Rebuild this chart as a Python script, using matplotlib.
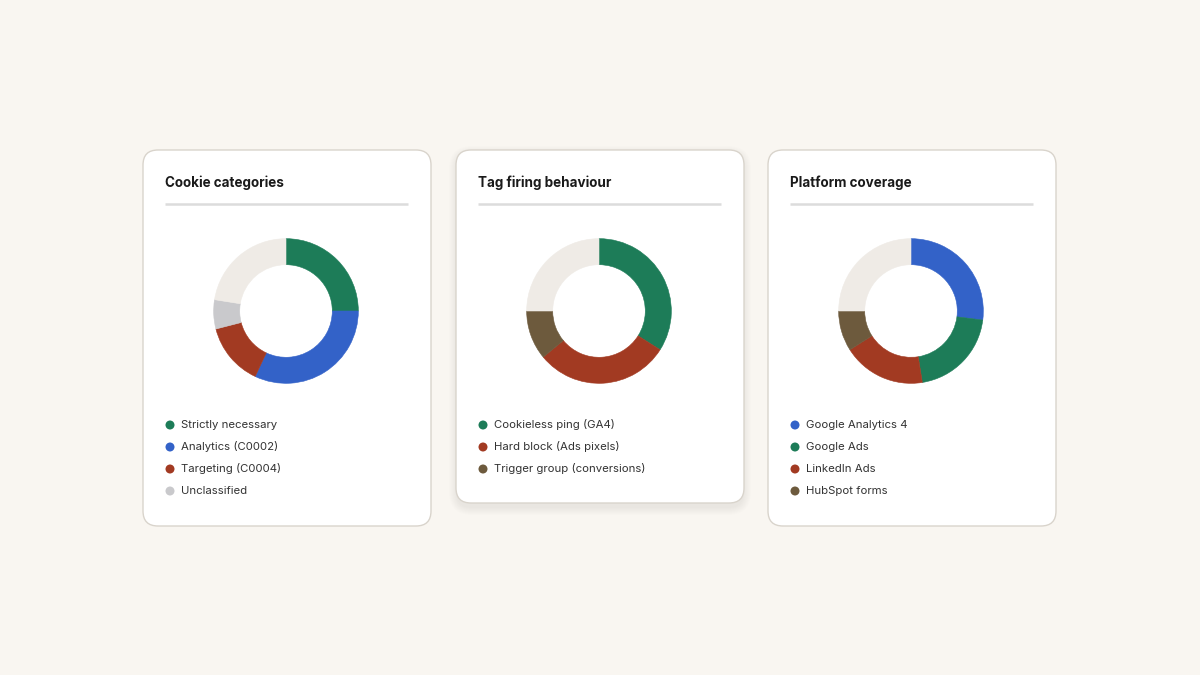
import matplotlib
matplotlib.use("Agg")
import matplotlib.pyplot as plt
from matplotlib.patches import FancyBboxPatch

# ---- data ----
titles = ["Cookie categories", "Tag firing behaviour", "Platform coverage"]
labels = [
    ["Strictly necessary", "Analytics (C0002)", "Targeting (C0004)", "Unclassified"],
    ["Cookieless ping (GA4)", "Hard block (Ads pixels)", "Trigger group (conversions)"],
    ["Google Analytics 4", "Google Ads", "LinkedIn Ads", "HubSpot forms"],
]
values = [
    [25, 32, 14, 6.5],
    [34, 30, 11],
    [27, 20.5, 18.5, 9],
]
remainders = [22.5, 25, 25]

GREEN = "#1d7c58"
BLUE = "#3362c8"
RED = "#a23a22"
GRAY = "#c9c9cc"
BROWN = "#6d5a3d"
TRACK = "#efebe6"
colors = [
    [GREEN, BLUE, RED, GRAY],
    [GREEN, RED, BROWN],
    [BLUE, GREEN, RED, BROWN],
]

BG = "#f9f6f1"
W, H = 1200, 675
FONT = ["Inter", "DejaVu Sans"]

fig = plt.figure(figsize=(W / 100, H / 100), dpi=100, facecolor=BG)
bg = fig.add_axes([0, 0, 1, 1])
bg.set_xlim(0, W)
bg.set_ylim(H, 0)
bg.axis("off")
bg.set_facecolor(BG)

card_x = [143, 456, 768]
card_w = 288
card_top = 150
card_bottom = [526, 503, 526]

for i in range(3):
    x0 = card_x[i]
    h = card_bottom[i] - card_top
    if i == 1:
        for k in range(1, 9):
            sh = FancyBboxPatch((x0 - k + 1, card_top + 3 - k + 1), card_w + 2 * k - 2, h + 2 * k,
                                boxstyle="round,pad=0,rounding_size=%d" % (15 + k),
                                linewidth=0, facecolor="#6a5a40", alpha=0.008, zorder=1)
            bg.add_patch(sh)
    card = FancyBboxPatch((x0, card_top), card_w, h,
                          boxstyle="round,pad=0,rounding_size=15",
                          linewidth=1.0, edgecolor="#d9d4cc", facecolor="white", zorder=2)
    bg.add_patch(card)
    # title
    bg.text(x0 + 22, 183, titles[i], fontsize=9.7, fontweight="bold", color="#1a1a1a",
            family=FONT, va="center", ha="left", zorder=3)
    # separator
    bg.plot([x0 + 22, x0 + card_w - 23], [204, 204], color="#dcdcdc", lw=1.8,
            solid_capstyle="butt", zorder=3)
    # legend
    for j, lab in enumerate(labels[i]):
        y = 425 + 22 * j
        bg.scatter([x0 + 27], [y], s=42, color=colors[i][j], edgecolors="none", zorder=3)
        bg.text(x0 + 38, y, lab, fontsize=8.2, color="#333333", family=FONT,
                va="center", ha="left", zorder=3)

    # donut
    cx, cy, r = x0 + 143, 311, 72.7
    ax = fig.add_axes([(cx - r) / W, 1 - (cy + r) / H, 2 * r / W, 2 * r / H])
    wedges, _ = ax.pie(values[i] + [remainders[i]], colors=colors[i] + [TRACK], startangle=90,
                       counterclock=False, radius=1.0,
                       wedgeprops=dict(width=0.36, linewidth=0.4))
    for wdg in wedges:
        wdg.set_edgecolor(wdg.get_facecolor())
    ax.set_xlim(-1.005, 1.005)
    ax.set_ylim(-1.005, 1.005)
    ax.set_aspect("equal")
    ax.axis("off")

fig.savefig("out.png", dpi=100, facecolor=BG)
